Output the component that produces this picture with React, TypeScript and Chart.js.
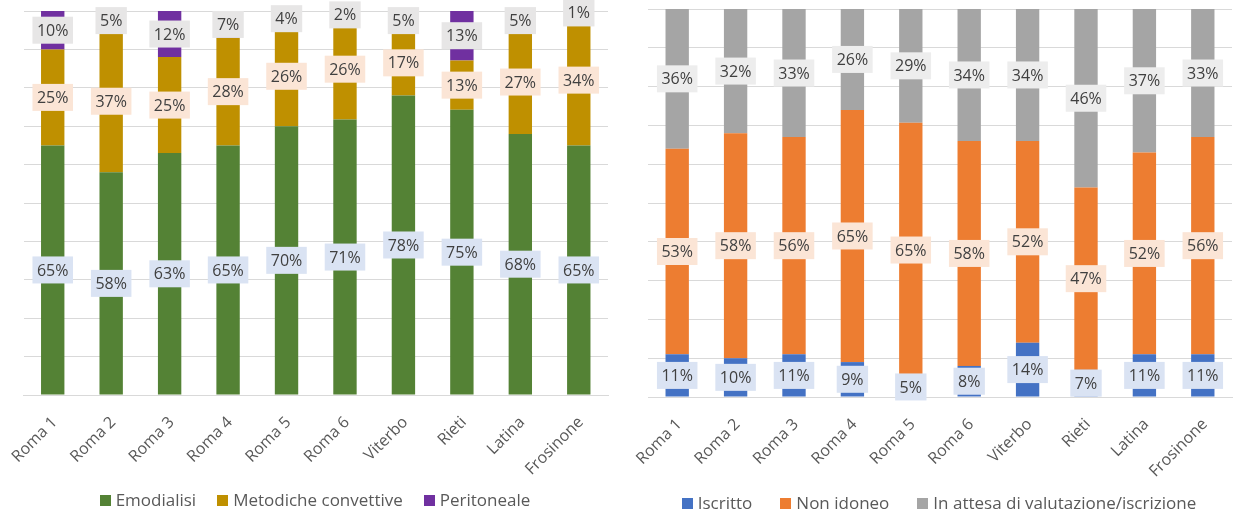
import React, { useEffect, useRef } from "react";
import { Chart, registerables } from "chart.js";

Chart.register(...registerables);

const FONT = "'Open Sans', sans-serif";

// ---- Data ----
const categories = ["Roma 1", "Roma 2", "Roma 3", "Roma 4", "Roma 5", "Roma 6", "Viterbo", "Rieti", "Latina", "Frosinone"];

// Left chart (tipo di dialisi)
const emodialisi = [65, 58, 63, 65, 70, 71, 78, 75, 68, 65];
const metodicheConvettive = [25, 37, 25, 28, 26, 26, 17, 13, 27, 34];
const peritoneale = [10, 5, 12, 7, 4, 2, 5, 13, 5, 1];

// Right chart (stato lista trapianto)
const iscritto = [11, 10, 11, 9, 5, 8, 14, 7, 11, 11];
const nonIdoneo = [53, 58, 56, 65, 65, 58, 52, 47, 52, 56];
const inAttesa = [36, 32, 33, 26, 29, 34, 34, 46, 37, 33];

const leftNames = ["Emodialisi", "Metodiche convettive", "Peritoneale"];
const rightNames = ["Iscritto", "Non idoneo", "In attesa di valutazione/iscrizione"];

const leftColors = ["#548235", "#BF9000", "#7030A0"];
const rightColors = ["#4472C4", "#ED7D31", "#A5A5A5"];

const Y_MIN = 0;
const Y_MAX = 100;
const Y_STEP = 10;

// ---- Helpers ----
function normalize(series: number[][]): number[][] {
  const totals = series[0].map((_, i) => series.reduce((s, arr) => s + arr[i], 0));
  return series.map((arr) => arr.map((v, i) => (v / totals[i]) * 100));
}

function makeLabelPlugin(raw: number[][], bgs: string[]) {
  return {
    id: "boxLabels",
    afterDatasetsDraw(chart: any) {
      const ctx = chart.ctx as CanvasRenderingContext2D;
      ctx.save();
      ctx.font = `16px ${FONT}`;
      ctx.textAlign = "center";
      ctx.textBaseline = "middle";
      raw.forEach((vals, di) => {
        const meta = chart.getDatasetMeta(di);
        meta.data.forEach((el: any, i: number) => {
          const { x, y, base } = el.getProps(["x", "y", "base"], true);
          const cy = (y + base) / 2;
          const text = `${vals[i]}%`;
          const w = ctx.measureText(text).width + 9;
          const h = 27;
          ctx.fillStyle = bgs[di];
          ctx.fillRect(x - w / 2, cy - h / 2, w, h);
          ctx.fillStyle = "#404040";
          ctx.fillText(text, x, cy + 1);
        });
      });
      ctx.restore();
    },
  };
}

function makeConfig(
  names: string[],
  series: number[][],
  colors: string[],
  labelBgs: string[],
  padding: { left: number; right: number; top: number; bottom: number },
  xHeight: number
): any {
  const norm = normalize(series);
  return {
    type: "bar",
    data: {
      labels: categories,
      datasets: names.map((n, i) => ({
        label: n,
        data: norm[i],
        backgroundColor: colors[i],
        borderWidth: 0,
        barPercentage: 0.4,
        categoryPercentage: 1,
      })),
    },
    options: {
      responsive: false,
      animation: false,
      layout: { padding },
      plugins: {
        legend: { display: false },
        tooltip: { enabled: false },
      },
      scales: {
        x: {
          stacked: true,
          grid: { display: false, drawTicks: false },
          border: { display: true, color: "#D9D9D9" },
          ticks: {
            color: "#595959",
            font: { size: 16, family: FONT },
            minRotation: 45,
            maxRotation: 45,
            autoSkip: false,
            padding: 18,
            labelOffset: 2,
          },
          afterFit: (s: any) => {
            s.height = xHeight;
            s.paddingLeft = 0;
            s.paddingRight = 0;
          },
        },
        y: {
          stacked: true,
          min: Y_MIN,
          max: Y_MAX,
          ticks: { display: false, stepSize: Y_STEP },
          grid: { color: "#D9D9D9", drawTicks: false, lineWidth: 1 },
          border: { display: false },
          afterFit: (s: any) => {
            s.width = 0;
          },
        },
      },
    },
    plugins: [makeLabelPlugin(series, labelBgs)],
  };
}

function Legend({ names, colors, left, width, top, gap }: { names: string[]; colors: string[]; left: number; width: number; top: number; gap: number }) {
  return (
    <div
      style={{
        position: "absolute",
        left,
        top,
        width,
        height: 20,
        display: "flex",
        justifyContent: "center",
        alignItems: "center",
        fontFamily: FONT,
        fontSize: 17,
        lineHeight: "20px",
        color: "#595959",
        whiteSpace: "nowrap",
      }}
    >
      {names.map((n, i) => (
        <div key={n} style={{ display: "flex", alignItems: "center", marginLeft: i === 0 ? 0 : gap }}>
          <span style={{ display: "inline-block", width: 11, height: 11, background: colors[i], marginRight: 5 }} />
          <span>{n}</span>
        </div>
      ))}
    </div>
  );
}

export default function App() {
  const leftRef = useRef<HTMLCanvasElement>(null);
  const rightRef = useRef<HTMLCanvasElement>(null);

  useEffect(() => {
    const left = new Chart(
      leftRef.current as HTMLCanvasElement,
      makeConfig(
        leftNames,
        [emodialisi, metodicheConvettive, peritoneale],
        leftColors,
        ["#DAE3F3", "#FBE5D6", "#E7E6E6"],
        { left: 23.5, right: 12, top: 11, bottom: 42 },
        80
      )
    );
    const right = new Chart(
      rightRef.current as HTMLCanvasElement,
      makeConfig(
        rightNames,
        [iscritto, nonIdoneo, inAttesa],
        rightColors,
        ["#DAE3F3", "#FBE5D6", "#EDEDED"],
        { left: 28, right: 2, top: 9, bottom: 40 },
        80
      )
    );
    return () => {
      left.destroy();
      right.destroy();
    };
  }, []);

  return (
    <div
      style={{
        position: "fixed",
        left: 0,
        top: 0,
        width: 1234,
        height: 517,
        overflow: "hidden",
        background: "#ffffff",
      }}
    >
      <canvas ref={leftRef} width={620} height={517} style={{ position: "absolute", left: 0, top: 0 }} />
      <canvas ref={rightRef} width={614} height={517} style={{ position: "absolute", left: 620, top: 0 }} />
      <Legend names={leftNames} colors={leftColors} left={0} width={630} top={490} gap={21} />
      <Legend names={rightNames} colors={rightColors} left={620} width={638} top={493} gap={28} />
    </div>
  );
}
